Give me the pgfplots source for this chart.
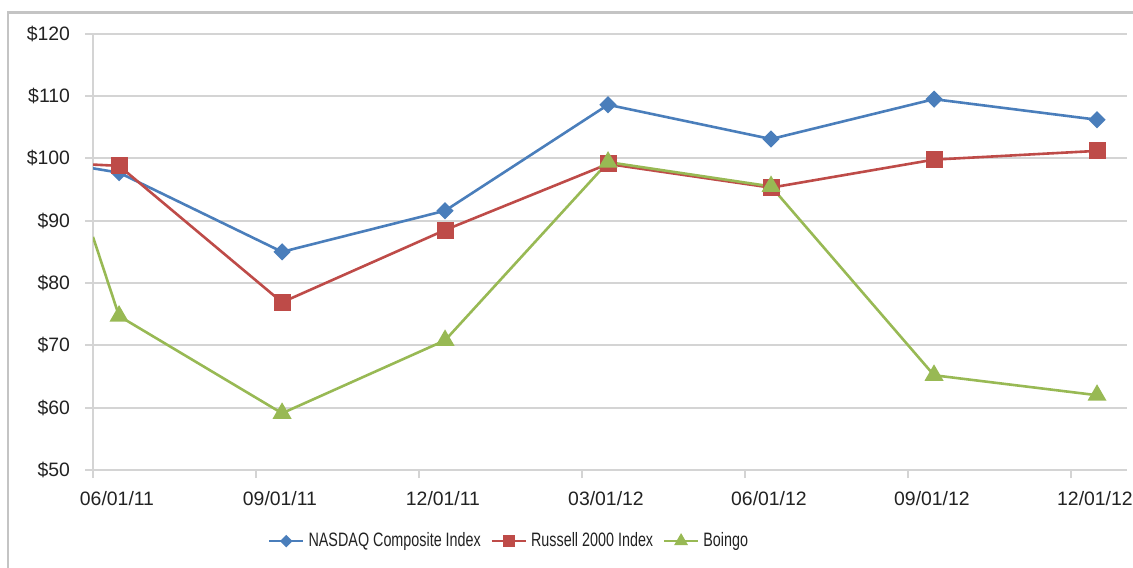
\documentclass[border=0pt]{standalone}
\usepackage{graphicx}
\usepackage{pgfplots}
\pgfplotsset{compat=1.18}
\usepackage{fontspec}
\setmainfont{Liberation Sans}
\definecolor{nasdaq}{HTML}{4A7EBB}
\definecolor{russell}{HTML}{BE4B48}
\definecolor{boingo}{HTML}{98B954}
\definecolor{gridgray}{HTML}{D4D4D4}
\definecolor{framegray}{HTML}{C4C4C4}
\definecolor{labelgray}{HTML}{222222}
\newcommand{\legtext}[1]{\scalebox{0.74}[1]{#1}}
\begin{document}
\begin{tikzpicture}
\useasboundingbox (0,0) rectangle (566.5pt,283.5pt);
\draw[framegray, line width=1.2pt] (4pt,-10pt) -- (4pt,277.2pt) -- (620pt,277.2pt);
\begin{axis}[
  at={(46.5pt,48.5pt)}, anchor=south west,
  scale only axis, width=517pt, height=218.15pt,
  xmin=0, xmax=6.344, ymin=50, ymax=120,
  axis x line*=bottom, axis y line*=left,
  axis line style={draw=gridgray, line width=1pt},
  xtick={0,1,2,3,4,5,6},
  xticklabels={06/01/11,09/01/11,12/01/11,03/01/12,06/01/12,09/01/12,12/01/12},
  ytick={50,60,70,80,90,100,110,120},
  yticklabels={\$50,\$60,\$70,\$80,\$90,\$100,\$110,\$120},
  ymajorgrids, grid style={draw=gridgray, line width=1pt},
  tick align=outside, major tick length=4pt,
  tick style={draw=gridgray, line width=1pt},
  tick label style={font=\fontsize{9.7}{11}\selectfont, text=labelgray},
  xticklabel style={xshift=12pt, yshift=-3pt},
  yticklabel style={xshift=-4pt},
  /pgf/number format/assume math mode=true,
  clip=true,
  legend image code/.code={%
    \draw[#1, mark=none] (0pt,0pt) -- (17pt,0pt);
    \draw[#1, every mark/.append style={scale=0.65}] plot coordinates {(0pt,0pt) (8.5pt,0pt)};
  },
  legend style={at={(0.4033,-0.163)}, anchor=center, draw=none, fill=none,
    font=\fontsize{9.7}{11}\selectfont, text=labelgray,
    legend columns=3, /tikz/every even column/.append style={column sep=2.8pt}},
  legend cell align=left,
]
\addplot[nasdaq, line width=1.3pt, mark=square*, mark indices={2,3,4,5,6,7,8},
  mark options={rotate=45, mark size=2.4pt, solid}]
  coordinates {(0,98.4) (0.16,97.7) (1.16,85.0) (2.16,91.6) (3.16,108.6) (4.16,103.1) (5.16,109.5) (6.16,106.2)};
\addlegendentry{\legtext{NASDAQ Composite Index}}
\addplot[russell, line width=1.3pt, mark=square*, mark indices={2,3,4,5,6,7,8},
  mark options={mark size=3.6pt, solid}]
  coordinates {(0,99.0) (0.16,98.8) (1.16,76.9) (2.16,88.5) (3.16,99.1) (4.16,95.3) (5.16,99.8) (6.16,101.2)};
\addlegendentry{\legtext{Russell 2000 Index}}
\addplot[boingo, line width=1.3pt, mark=triangle*, mark indices={2,3,4,5,6,7,8},
  mark options={mark size=4.2pt, solid}]
  coordinates {(0,87.4) (0.16,74.7) (1.16,59.1) (2.16,70.8) (3.16,99.4) (4.16,95.5) (5.16,65.2) (6.16,62.0)};
\addlegendentry{\legtext{Boingo}}
\end{axis}
\end{tikzpicture}
\end{document}
